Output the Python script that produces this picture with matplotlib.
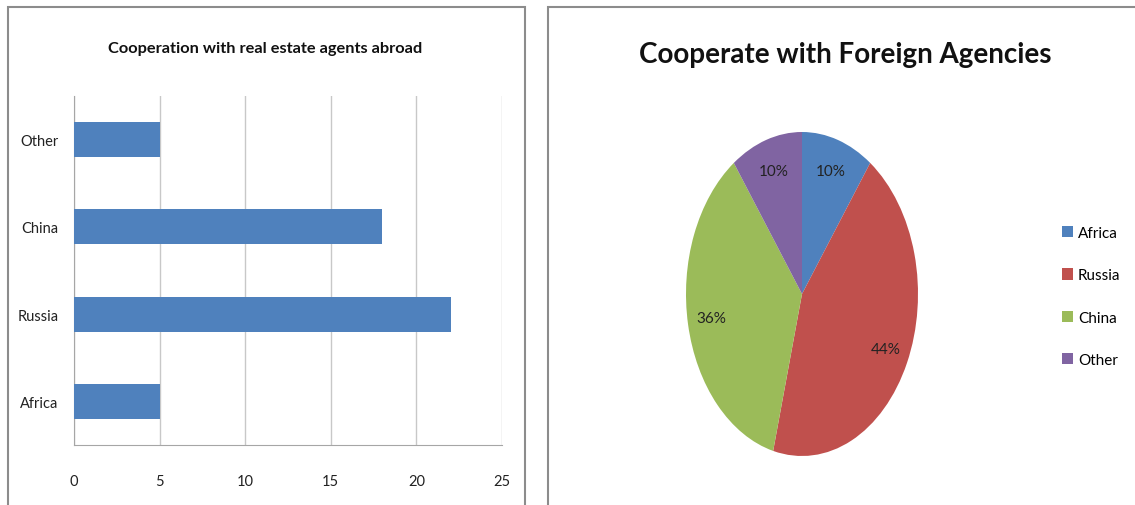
import matplotlib
matplotlib.use("Agg")
import matplotlib.pyplot as plt
from matplotlib.patches import Rectangle

plt.rcParams['font.family'] = ['Lato', 'DejaVu Sans']

regions = ['Africa', 'Russia', 'China', 'Other']
agents = [5, 22, 18, 5]
xticks = [0, 5, 10, 15, 20, 25]
colors = ['#4F81BD', '#C0504D', '#9BBB59', '#8064A2']

W, H = 1135, 506
fig = plt.figure(figsize=(W / 100, H / 100), dpi=100)

def box(x0, y0, x1, y1):
    # axes box in pixel coords (top-left origin)
    return [x0 / W, (H - y1) / H, (x1 - x0) / W, (y1 - y0) / H]

# panel borders
for x0, x1 in [(8, 525), (548, 1145)]:
    fig.patches.append(Rectangle((x0 / W, -0.05), (x1 - x0) / W, (H - 8) / H + 0.05,
                                 transform=fig.transFigure, fill=False,
                                 edgecolor='#8c8c8c', lw=1.5))

# bar chart
ax = fig.add_axes(box(74, 97, 502, 446))
ax.barh(range(len(regions)), agents, height=0.4, color=colors[0], zorder=3)
ax.set_xlim(0, 25)
ax.set_ylim(-0.5, 3.5)
ax.set_xticks(xticks)
ax.set_yticks(range(len(regions)))
ax.set_yticklabels(regions)
ax.grid(axis='x', color='#c8c8c8', lw=1)
for s in ['top', 'right']:
    ax.spines[s].set_visible(False)
for s in ['left', 'bottom']:
    ax.spines[s].set_color('#a6a6a6')
ax.tick_params(length=0, labelsize=10.5, colors='#222222')
ax.tick_params(axis='x', pad=21)
ax.tick_params(axis='y', pad=11)
fig.text(265 / W, 1 - 49 / H, 'Cooperation with real estate agents abroad',
         ha='center', va='center', fontsize=11.8, fontweight='bold', color='#111111')

# pie chart
pax = fig.add_axes(box(686, 133, 918, 457))
wedges, texts, autotexts = pax.pie(agents, colors=colors, startangle=90,
                                   counterclock=False, autopct='%1.0f%%',
                                   pctdistance=0.8,
                                   textprops={'fontsize': 11, 'color': '#222222'})
pax.set_aspect('auto')
pax.set_xlim(-1, 1)
pax.set_ylim(-1, 1)
fig.text(845 / W, 1 - 55 / H, 'Cooperate with Foreign Agencies',
         ha='center', va='center', fontsize=20, fontweight='bold', color='#111111')

fig.legend(wedges, regions, loc='upper left', bbox_to_anchor=(1062 / W, 1 - 227 / H),
           frameon=False, borderpad=0, borderaxespad=0, fontsize=11,
           handlelength=0.75, handleheight=0.75, handletextpad=0.3, labelspacing=1.85)

fig.savefig('out.png', dpi=100)
